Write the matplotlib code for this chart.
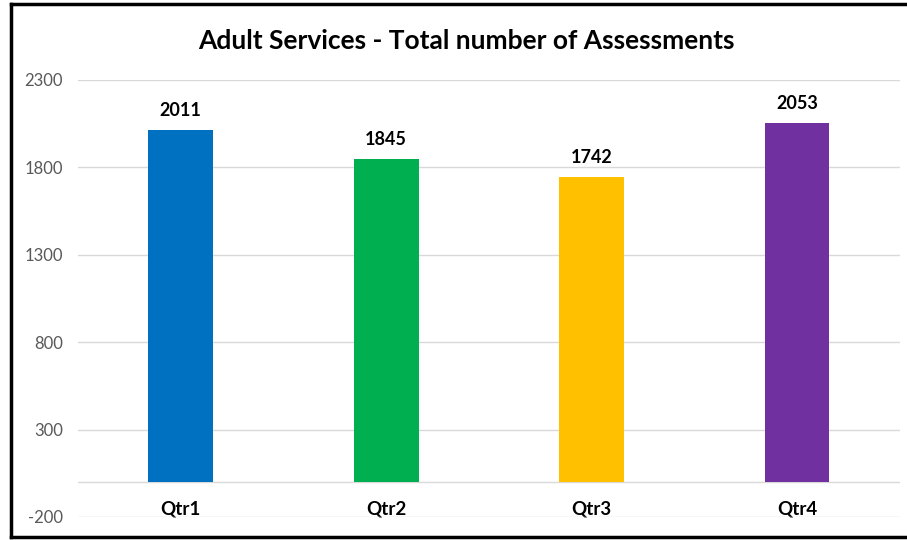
import matplotlib.pyplot as plt
from matplotlib.lines import Line2D

quarters = ['Qtr1', 'Qtr2', 'Qtr3', 'Qtr4']
assessments = [2011, 1845, 1742, 2053]
bar_colors = ['#0070C0', '#00B050', '#FFC000', '#7030A0']
y_ticks = [-200, 300, 800, 1300, 1800, 2300]

plt.rcParams['font.family'] = ['Lato', 'DejaVu Sans']

fig = plt.figure(figsize=(9.07, 5.40), dpi=100)
ax = fig.add_axes([0.086, 0.0426, 0.906, 0.8094])

x = list(range(len(quarters)))
ax.bar(x, assessments, width=0.316, color=bar_colors, zorder=3)

# Value labels above bars
for i, v in enumerate(assessments):
    ax.annotate(str(v), (i, v), xytext=(0, 8), textcoords='offset points',
                ha='center', va='bottom', fontsize=13, fontweight='bold',
                color='black')

ax.set_xlim(-0.5, len(quarters) - 0.5)
ax.set_ylim(-200, 2300)
ax.set_yticks(y_ticks)
ax.set_yticklabels([str(t) for t in y_ticks], fontsize=12, color='#595959')
ax.grid(True, axis='y', color='#D9D9D9', linewidth=1, zorder=0)
ax.axhline(0, color='#D9D9D9', linewidth=1, zorder=1)

# Category labels sit inside the plot just above the bottom gridline
ax.set_xticks(x)
ax.set_xticklabels(quarters, fontsize=13.5, fontweight='bold', color='black')
ax.tick_params(axis='x', length=0, pad=-12)
ax.tick_params(axis='y', length=0, pad=11)

for s in ax.spines.values():
    s.set_visible(False)

ax.set_title('Adult Services - Total number of Assessments', fontsize=19,
             fontweight='bold', pad=22, x=0.5 - 0.027)

# Chart border (left, top, bottom)
lw = 2.5
fig.add_artist(Line2D([0.012, 0.012], [0.006, 0.993], color='black',
                      linewidth=lw, transform=fig.transFigure))
fig.add_artist(Line2D([0.012, 1.0], [0.993, 0.993], color='black',
                      linewidth=lw, transform=fig.transFigure))
fig.add_artist(Line2D([0.012, 1.0], [0.006, 0.006], color='black',
                      linewidth=lw, transform=fig.transFigure))

fig.savefig('out.png', dpi=100)
